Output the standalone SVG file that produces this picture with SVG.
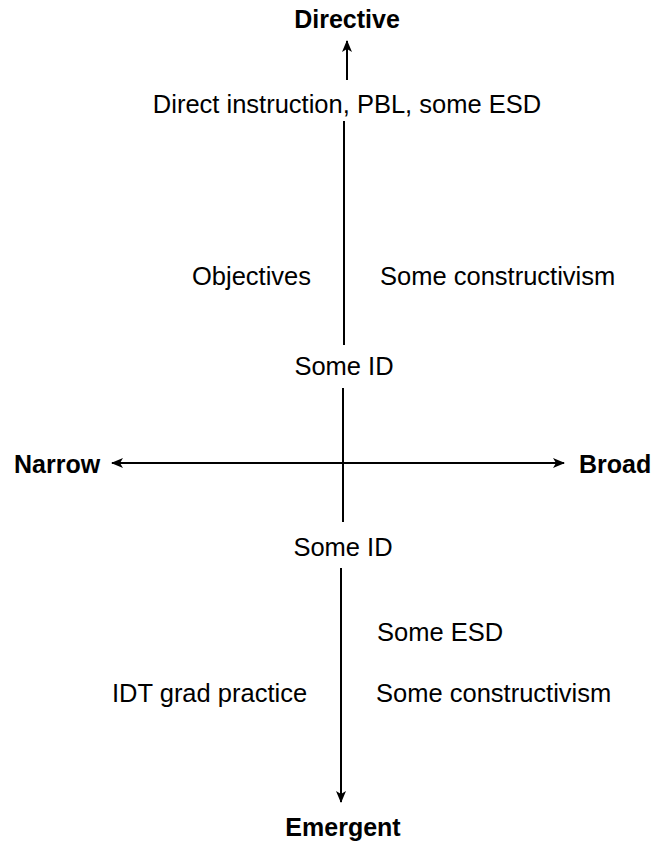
<svg xmlns="http://www.w3.org/2000/svg" width="652" height="843" viewBox="0 0 652 843">
<style>
.t{font-family:"Liberation Sans",Arial,Helvetica,sans-serif;font-size:25.5px;fill:#000}
.b{font-family:"Liberation Sans",Arial,Helvetica,sans-serif;font-size:25px;font-weight:bold;fill:#000}
.ax{stroke:#000;stroke-width:2;fill:none}
</style>
<defs>
<marker id="ah" viewBox="0 0 12 10" refX="11" refY="5" markerWidth="12" markerHeight="10" markerUnits="userSpaceOnUse" orient="auto">
<path d="M0,0 L12,5 L0,10 L3,5 Z" fill="#000"/>
</marker>
</defs>
<rect width="652" height="843" fill="#fff"/>
<g id="connectors">
<line class="ax" x1="347" y1="80" x2="347" y2="41" marker-end="url(#ah)"/>
<line class="ax" x1="344" y1="121" x2="344" y2="345"/>
<line class="ax" x1="343" y1="388" x2="343" y2="522"/>
<line class="ax" x1="343" y1="463" x2="112" y2="463" marker-end="url(#ah)"/>
<line class="ax" x1="343" y1="463" x2="564" y2="463" marker-end="url(#ah)"/>
<line class="ax" x1="341" y1="568" x2="341" y2="802" marker-end="url(#ah)"/>
</g>
<g id="directive"><text class="b" x="347" y="28" text-anchor="middle">Directive</text></g>
<g id="direct"><text class="t" x="347" y="113" text-anchor="middle">Direct instruction, PBL, some ESD</text></g>
<g id="objectives"><text class="t" x="192" y="285">Objectives</text></g>
<g id="constr1"><text class="t" x="380" y="285">Some constructivism</text></g>
<g id="someid1"><text class="t" x="344" y="375" text-anchor="middle">Some ID</text></g>
<g id="narrow"><text class="b" x="14" y="473">Narrow</text></g>
<g id="broad"><text class="b" x="579" y="473">Broad</text></g>
<g id="someid2"><text class="t" x="343" y="556" text-anchor="middle">Some ID</text></g>
<g id="someesd"><text class="t" x="377" y="641">Some ESD</text></g>
<g id="idt"><text class="t" x="112" y="702">IDT grad practice</text></g>
<g id="constr2"><text class="t" x="376" y="702">Some constructivism</text></g>
<g id="emergent"><text class="b" x="343" y="836" text-anchor="middle">Emergent</text></g>
</svg>
